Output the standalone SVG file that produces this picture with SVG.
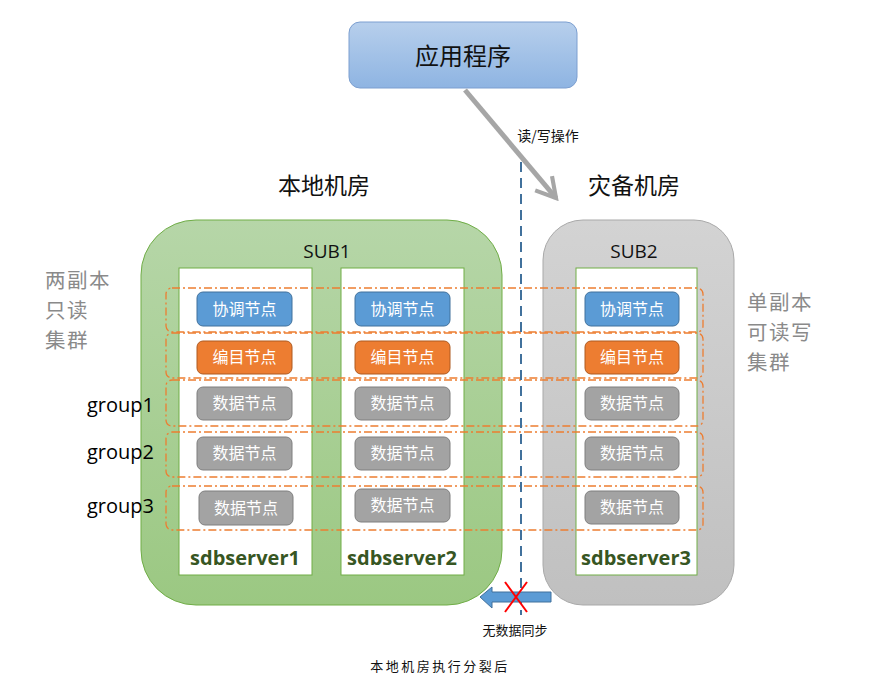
<svg xmlns="http://www.w3.org/2000/svg" width="895" height="697" viewBox="0 0 895 697">
<defs>
<linearGradient id="appG" x1="0" y1="0" x2="0" y2="1"><stop offset="0" stop-color="#b7cfec"/><stop offset="1" stop-color="#8eb4e2"/></linearGradient>
<linearGradient id="greenG" x1="0" y1="0" x2="0" y2="1"><stop offset="0" stop-color="#b6d6a8"/><stop offset="1" stop-color="#9bc882"/></linearGradient>
<linearGradient id="grayG" x1="0" y1="0" x2="0" y2="1"><stop offset="0" stop-color="#d3d3d3"/><stop offset="1" stop-color="#c0c0c0"/></linearGradient>
<marker id="openArr" viewBox="0 0 20 20" refX="17" refY="10" markerWidth="5.5" markerHeight="5.5" orient="auto" markerUnits="strokeWidth">
<polyline points="3,2 17,10 3,18" fill="none" stroke="#a6a6a6" stroke-width="3"/>
</marker>
</defs>
<style>
.cjk{font-family:"Noto Sans CJK SC","Liberation Sans",sans-serif}
.lat{font-family:"Open Sans","Liberation Sans",sans-serif}
.node text{font-family:"Noto Sans CJK SC",sans-serif;font-size:16px;fill:#fff;text-anchor:middle}
.blue{fill:#5b9bd5;stroke:#41719c;stroke-width:1}
.orange{fill:#ed7d31;stroke:#ae5a21;stroke-width:1}
.gray{fill:#a3a3a3;stroke:#7f7f7f;stroke-width:1}
.server{fill:#fff;stroke:#70ad47;stroke-width:1}
.srvlbl{font-family:"Open Sans","Liberation Sans",sans-serif;font-weight:bold;font-size:20px;fill:#375623;text-anchor:middle}
.grp{fill:none;stroke:#ed7d31;stroke-width:1.3;stroke-dasharray:8 3 2 3}
.side{font-family:"Noto Sans CJK SC",sans-serif;font-size:20.5px;letter-spacing:1.5px;fill:#8a8a8a}
.glbl{font-family:"Open Sans","Liberation Sans",sans-serif;font-size:20px;fill:#000;text-anchor:end}
</style>

<g id="app">
<rect x="349" y="22" width="228" height="66" rx="11" fill="url(#appG)" stroke="#7c9fd0" stroke-width="1"/>
<text x="463" y="65" class="cjk" font-size="24" text-anchor="middle" fill="#111">应用程序</text>
</g>

<g id="room-labels">
<text x="324" y="194" class="cjk" font-size="23" text-anchor="middle" fill="#111">本地机房</text>
<text x="634" y="194" class="cjk" font-size="23" text-anchor="middle" fill="#111">灾备机房</text>
</g>

<g id="sub1">
<rect x="141" y="220" width="361" height="385" rx="55" fill="url(#greenG)" stroke="#70ad47" stroke-width="1"/>
<text x="327" y="258" class="lat" font-size="19" text-anchor="middle" fill="#111">SUB1</text>
</g>
<g id="sub2">
<rect x="543" y="220" width="191" height="385" rx="40" fill="url(#grayG)" stroke="#a9a9a9" stroke-width="1"/>
<text x="634" y="258" class="lat" font-size="19" text-anchor="middle" fill="#111">SUB2</text>
</g>

<g id="sdbserver1">
<rect class="server" x="179" y="268" width="133" height="307"/>
<text class="srvlbl" x="245" y="565">sdbserver1</text>
</g>
<g id="sdbserver2">
<rect class="server" x="341" y="268" width="123" height="307"/>
<text class="srvlbl" x="402" y="565">sdbserver2</text>
</g>
<g id="sdbserver3">
<rect class="server" x="576" y="268" width="121" height="307"/>
<text class="srvlbl" x="636" y="565">sdbserver3</text>
</g>

<g id="node-s1-coord" class="node"><rect class="blue" x="197" y="292" width="95" height="34" rx="6"/><text x="244.5" y="315">协调节点</text></g>
<g id="node-s2-coord" class="node"><rect class="blue" x="355" y="292" width="95" height="34" rx="6"/><text x="402.5" y="315">协调节点</text></g>
<g id="node-s3-coord" class="node"><rect class="blue" x="585" y="292" width="94" height="34" rx="6"/><text x="632" y="315">协调节点</text></g>

<g id="node-s1-cat" class="node"><rect class="orange" x="197" y="341" width="95" height="33" rx="6"/><text x="244.5" y="363">编目节点</text></g>
<g id="node-s2-cat" class="node"><rect class="orange" x="355" y="341" width="95" height="33" rx="6"/><text x="402.5" y="363">编目节点</text></g>
<g id="node-s3-cat" class="node"><rect class="orange" x="585" y="341" width="94" height="33" rx="6"/><text x="632" y="363">编目节点</text></g>

<g id="node-s1-d1" class="node"><rect class="gray" x="197" y="387" width="95" height="33" rx="6"/><text x="244.5" y="409">数据节点</text></g>
<g id="node-s2-d1" class="node"><rect class="gray" x="355" y="387" width="95" height="33" rx="6"/><text x="402.5" y="409">数据节点</text></g>
<g id="node-s3-d1" class="node"><rect class="gray" x="585" y="387" width="94" height="33" rx="6"/><text x="632" y="409">数据节点</text></g>

<g id="node-s1-d2" class="node"><rect class="gray" x="197" y="437" width="95" height="33" rx="6"/><text x="244.5" y="459">数据节点</text></g>
<g id="node-s2-d2" class="node"><rect class="gray" x="355" y="437" width="95" height="33" rx="6"/><text x="402.5" y="459">数据节点</text></g>
<g id="node-s3-d2" class="node"><rect class="gray" x="585" y="437" width="94" height="33" rx="6"/><text x="632" y="459">数据节点</text></g>

<g id="node-s1-d3" class="node"><rect class="gray" x="199" y="491" width="94" height="34" rx="6"/><text x="246" y="514">数据节点</text></g>
<g id="node-s2-d3" class="node"><rect class="gray" x="355" y="489" width="95" height="33" rx="6"/><text x="402.5" y="511">数据节点</text></g>
<g id="node-s3-d3" class="node"><rect class="gray" x="585" y="491" width="94" height="33" rx="6"/><text x="632" y="513">数据节点</text></g>

<g id="groups">
<rect class="grp" x="166" y="288" width="537" height="44" rx="6"/>
<rect class="grp" x="166" y="333" width="537" height="45" rx="6"/>
<rect class="grp" x="166" y="380" width="537" height="46" rx="6"/>
<rect class="grp" x="166" y="432" width="537" height="45" rx="6"/>
<rect class="grp" x="166" y="486" width="537" height="44" rx="6"/>
</g>

<g id="group-labels">
<text class="glbl" x="154" y="412">group1</text>
<text class="glbl" x="154" y="459">group2</text>
<text class="glbl" x="154" y="513">group3</text>
</g>

<g id="side-labels">
<text class="side" x="45" y="288">两副本</text>
<text class="side" x="45" y="318">只读</text>
<text class="side" x="45" y="348">集群</text>
<text class="side" x="747" y="310">单副本</text>
<text class="side" x="747" y="340">可读写</text>
<text class="side" x="747" y="370">集群</text>
</g>

<g id="connectors">
<line x1="521" y1="162" x2="521" y2="615" stroke="#41719c" stroke-width="2" stroke-dasharray="10 6"/>
<line x1="465" y1="90" x2="556" y2="198" stroke="#a6a6a6" stroke-width="5" marker-end="url(#openArr)"/>
<text x="548" y="141" class="cjk" font-size="14" text-anchor="middle" fill="#111">读/写操作</text>
<polygon points="551,592 492,592 492,587 480,597 492,608 492,602 551,602" fill="#5b9bd5" stroke="#41719c" stroke-width="1"/>
<line x1="505" y1="582" x2="527" y2="612" stroke="#ff0000" stroke-width="2"/>
<line x1="527" y1="582" x2="505" y2="612" stroke="#ff0000" stroke-width="2"/>
<text x="515" y="635" class="cjk" font-size="13" text-anchor="middle" fill="#111">无数据同步</text>
</g>

<text x="440" y="671" class="cjk" font-size="13" text-anchor="middle" letter-spacing="2.5" fill="#111">本地机房执行分裂后</text>
</svg>
